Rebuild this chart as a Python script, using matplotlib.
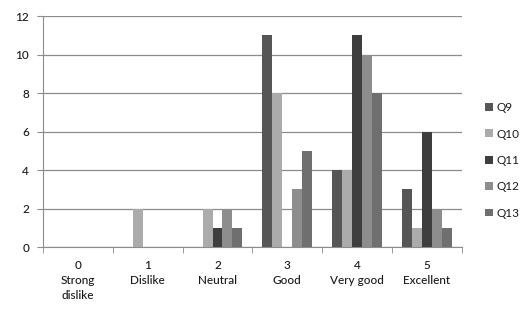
import matplotlib
matplotlib.use("Agg")
import matplotlib.pyplot as plt
import numpy as np

categories = ["0\nStrong\ndislike", "1\nDislike", "2\nNeutral", "3\nGood",
              "4\nVery good", "5\nExcellent"]
series_names = ["Q9", "Q10", "Q11", "Q12", "Q13"]
q9 = [0, 0, 0, 11, 4, 3]
q10 = [0, 2, 2, 8, 4, 1]
q11 = [0, 0, 1, 0, 11, 6]
q12 = [0, 0, 2, 3, 10, 2]
q13 = [0, 0, 1, 5, 8, 1]
series = [q9, q10, q11, q12, q13]
colors = ["#565656", "#ababab", "#3e3e3e", "#8d8d8d", "#6f6f6f"]

plt.rcParams["font.family"] = ["Lato", "DejaVu Sans"]
plt.rcParams["text.color"] = "#1a1a1a"
plt.rcParams["xtick.labelcolor"] = "#1a1a1a"
plt.rcParams["ytick.labelcolor"] = "#1a1a1a"

fig = plt.figure(figsize=(5.26, 3.09), dpi=100)
ax = fig.add_axes([0.0817, 0.2006, 0.7963, 0.7474])

x = np.arange(len(categories))
w = 1 / 7
for i, (name, vals, col) in enumerate(zip(series_names, series, colors)):
    ax.bar(x + (i - 2) * w, vals, width=w, color=col, label=name, zorder=2)

ax.set_xlim(-0.5, len(categories) - 0.5)
ax.set_ylim(0, 12)
ax.set_yticks(range(0, 13, 2))
ax.yaxis.grid(True, color="#8c8c8c", lw=0.9, zorder=0)
ax.set_axisbelow(True)

ax.set_xticks(x)
ax.set_xticklabels(categories, fontsize=8.5, linespacing=1.45, fontweight="medium")
ax.tick_params(axis="x", length=0, pad=9)
ax.set_xticks(np.arange(-0.5, len(categories)), minor=True)
ax.tick_params(axis="x", which="minor", length=4, color="#8c8c8c")
ax.tick_params(axis="y", length=4, color="#8c8c8c", labelsize=8.5, pad=6)
for lbl in ax.get_yticklabels():
    lbl.set_fontweight("medium")

for s in ["top", "right"]:
    ax.spines[s].set_visible(False)
for s in ["left", "bottom"]:
    ax.spines[s].set_color("#8c8c8c")

ax.legend(loc="center left", bbox_to_anchor=(1.03, 0.375), frameon=False,
          fontsize=8.5, handlelength=0.65, handleheight=0.65, handletextpad=0.3,
          labelspacing=1.3)

fig.savefig("out.png", dpi=100)
